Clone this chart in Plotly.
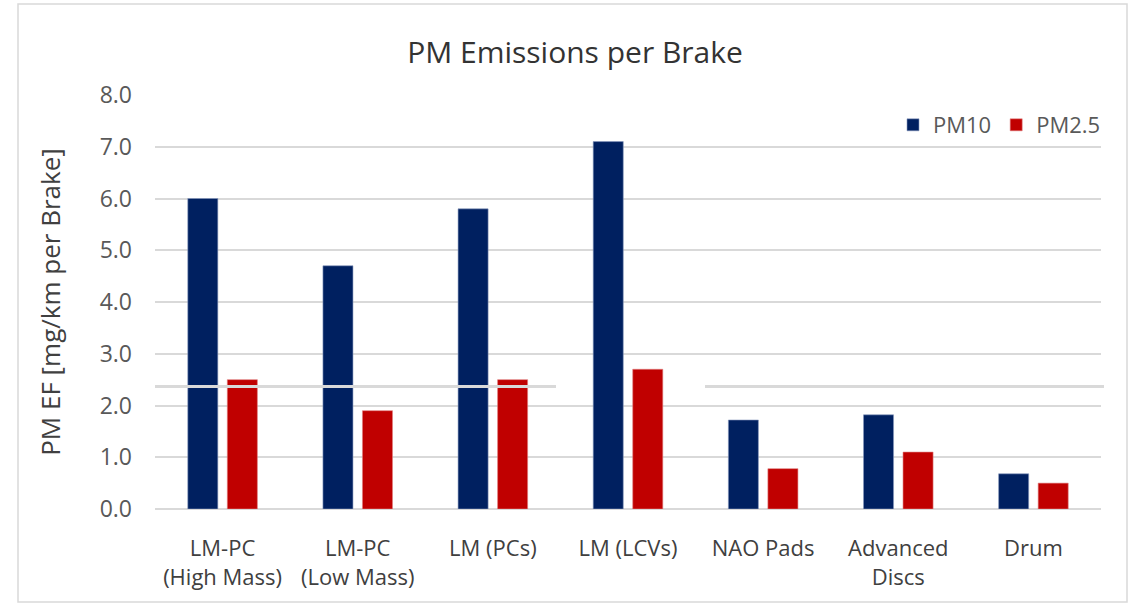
import plotly.graph_objects as go

# Brake categories (two-line tick labels) and emission factors in mg/km per brake
categories = [
    "LM-PC<br>(High Mass)",
    "LM-PC<br>(Low Mass)",
    "LM (PCs)",
    "LM (LCVs)",
    "NAO Pads",
    "Advanced<br>Discs",
    "Drum",
]
pm10 = [6.0, 4.7, 5.8, 7.1, 1.72, 1.82, 0.68]
pm25 = [2.5, 1.9, 2.5, 2.7, 0.78, 1.1, 0.5]
y_ticks = [0, 1, 2, 3, 4, 5, 6, 7, 8]
y_tick_text = [f"{v:.1f}" for v in y_ticks]

W, H = 1133, 605
ML, MR, MT, MB = 155, 32, 95, 96
PW, PH = W - ML - MR, H - MT - MB


def px_x(px):
    return (px - ML) / PW


def px_y(py):
    return (H - MB - py) / PH


FONT = "Open Sans"
BLUE = "#002060"
RED = "#C00000"
GRID = "#D9D9D9"

fig = go.Figure()
fig.add_trace(go.Bar(
    name="PM10", x=categories, y=pm10,
    marker=dict(color=BLUE, line=dict(color="#8a9ac0", width=0.6)),
))
fig.add_trace(go.Bar(
    name="PM2.5", x=categories, y=pm25,
    marker=dict(color=RED, line=dict(color="#e08080", width=0.6)),
))

shapes = [
    # outer chart frame
    dict(type="rect", xref="paper", yref="paper",
         x0=px_x(18), x1=px_x(1127), y0=px_y(602), y1=px_y(4),
         line=dict(color="#D9D9D9", width=1.5), fillcolor="rgba(0,0,0,0)",
         layer="below"),
    # light rule crossing the plot just above 2.0
    dict(type="line", xref="paper", yref="y",
         x0=px_x(155), x1=px_x(556), y0=2.365, y1=2.365,
         line=dict(color="#D9D9D9", width=3), layer="above"),
    dict(type="line", xref="paper", yref="y",
         x0=px_x(705), x1=px_x(1104), y0=2.365, y1=2.365,
         line=dict(color="#D9D9D9", width=3), layer="above"),
]

fig.update_layout(
    width=W, height=H,
    margin=dict(l=ML, r=MR, t=MT, b=MB, pad=0),
    paper_bgcolor="white", plot_bgcolor="white",
    barmode="group", bargap=0.415, bargroupgap=0.24,
    font=dict(family=FONT, color="#595959", size=22),
    title=dict(
        text="PM Emissions per Brake",
        x=575 / W, xanchor="center",
        y=1 - 52 / H, yanchor="middle",
        font=dict(family=FONT, size=30, color="#333333"),
    ),
    legend=dict(
        orientation="h", xanchor="right", yanchor="middle",
        x=px_x(1106), y=px_y(125),
        font=dict(family=FONT, size=22, color="#595959"),
        bgcolor="rgba(0,0,0,0)", itemwidth=30, tracegroupgap=0,
    ),
    xaxis=dict(
        showgrid=False, showline=False, zeroline=False,
        tickfont=dict(family=FONT, size=22, color="#404040"),
        ticks="", ticklabelstandoff=24,
    ),
    yaxis=dict(
        range=[0, 8], tickvals=y_ticks, ticktext=y_tick_text,
        showgrid=True, gridcolor=GRID, gridwidth=1.6,
        zeroline=True, zerolinecolor=GRID, zerolinewidth=1.6,
        showline=False, ticks="", ticklabelstandoff=22,
        tickfont=dict(family=FONT, size=23, color="#595959"),
        title=dict(text="PM EF [mg/km per Brake]", standoff=31,
                   font=dict(family=FONT, size=26, color="#404040")),
    ),
    shapes=shapes,
)

fig.write_html("out.html")
